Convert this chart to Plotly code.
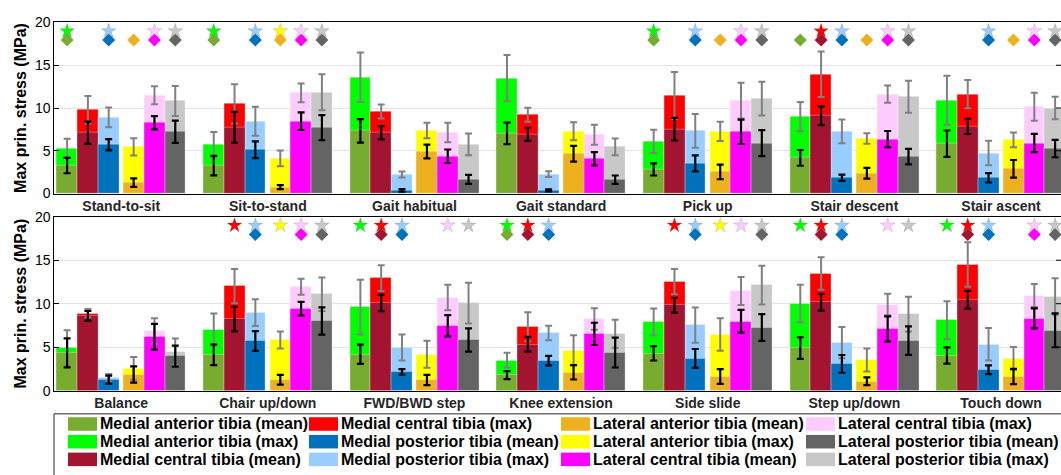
import plotly.graph_objects as go

W, H = 1061, 475

activities = ["Stand-to-sit", "Sit-to-stand", "Gait habitual", "Gait standard", "Pick up",
              "Stair descent", "Stair ascent",
              "Balance", "Chair up/down", "FWD/BWD step", "Knee extension", "Side slide",
              "Step up/down", "Touch down"]

locations = ["Medial anterior tibia", "Medial central tibia", "Medial posterior tibia",
             "Lateral anterior tibia", "Lateral central tibia", "Lateral posterior tibia"]

# ---- data (MPa), 14 activities per list ----
ma_max = [5.3, 5.7, 13.6, 13.5, 6.1, 9.0, 10.9, 4.9, 7.05, 9.6, 3.5, 7.9, 10.0, 8.1]
ma_max_sd = [1.1, 1.5, 2.9, 2.7, 1.37, 1.71, 2.86, 2.04, 1.82, 3.15, 0.85, 1.56, 2.17, 2.19]
ma_mean = [3.27, 3.27, 7.33, 7.03, 2.82, 4.17, 5.83, 4.34, 4.12, 4.19, 1.78, 4.3, 4.9, 4.04]
ma_mean_sd = [0.9, 1.15, 1.37, 1.26, 0.71, 0.92, 1.54, 1.67, 1.19, 1.11, 0.46, 0.83, 1.24, 0.93]

mc_max = [9.81, 10.49, 9.59, 9.21, 11.47, 13.95, 11.62, 8.9, 12.02, 12.95, 7.35, 12.54, 13.47, 14.51]
mc_max_sd = [1.6, 2.3, 0.81, 0.83, 2.75, 2.65, 1.65, 0.5, 1.98, 1.48, 1.67, 1.45, 1.88, 2.56]
mc_mean = [7.1, 7.74, 7.1, 6.92, 7.52, 9.1, 7.86, 8.61, 8.24, 10.09, 5.34, 9.83, 10.17, 10.46]
mc_mean_sd = [1.3, 1.8, 0.77, 0.77, 1.32, 1.09, 0.9, 0.55, 1.43, 0.96, 0.85, 0.85, 0.96, 1.02]

mp_max = [8.9, 8.46, 2.22, 2.26, 7.33, 7.26, 4.74, 1.48, 8.98, 4.97, 6.64, 7.53, 5.53, 5.34]
mp_max_sd = [1.15, 1.7, 0.36, 0.34, 1.97, 1.39, 1.43, 0.43, 1.54, 1.5, 0.83, 2.02, 1.8, 1.86]
mp_mean = [5.7, 5.11, 0.38, 0.38, 3.53, 1.84, 1.84, 1.26, 5.71, 2.15, 3.45, 3.71, 3.08, 2.41]
mp_mean_sd = [0.65, 0.98, 0.15, 0.12, 0.94, 0.36, 0.55, 0.46, 1.13, 0.32, 0.54, 1.08, 1.02, 0.5]

la_max = [5.45, 4.1, 7.37, 7.29, 7.26, 6.43, 6.28, 2.56, 5.83, 4.19, 4.64, 6.46, 3.53, 3.71]
la_max_sd = [1.0, 0.92, 0.92, 1.05, 1.13, 0.62, 0.87, 1.3, 0.97, 1.56, 1.73, 1.86, 1.32, 1.32]
la_mean = [1.28, 0.75, 4.92, 4.66, 2.52, 2.37, 2.89, 1.86, 1.26, 1.22, 2.11, 1.63, 1.08, 1.63]
la_mean_sd = [0.5, 0.23, 0.8, 0.92, 0.85, 0.62, 1.03, 0.93, 0.56, 0.59, 0.83, 0.85, 0.45, 0.87]

lc_max = [11.5, 11.77, 7.14, 6.88, 10.86, 11.62, 10.15, 6.86, 11.95, 10.72, 8.24, 11.47, 9.91, 10.95]
lc_max_sd = [1.05, 1.09, 1.15, 1.17, 2.09, 1.0, 1.64, 1.48, 0.93, 1.47, 1.24, 1.61, 1.24, 1.32]
lc_mean = [8.27, 8.46, 4.36, 4.06, 7.22, 6.35, 5.9, 6.2, 9.42, 7.46, 6.53, 7.98, 7.09, 8.31]
lc_mean_sd = [0.77, 1.03, 0.79, 0.77, 1.43, 0.96, 1.07, 1.48, 0.78, 1.22, 1.28, 1.3, 1.45, 1.15]

lp_max = [10.83, 11.84, 5.75, 5.45, 11.09, 11.32, 10.0, 4.49, 11.09, 10.06, 6.53, 12.13, 8.79, 10.83]
lp_max_sd = [1.75, 2.1, 1.26, 0.98, 1.97, 1.86, 1.32, 1.52, 1.93, 2.34, 1.61, 2.23, 2.0, 2.1]
lp_mean = [7.22, 7.7, 1.65, 1.62, 5.9, 4.32, 5.26, 3.97, 8.01, 5.83, 4.38, 7.27, 5.75, 6.94]
lp_mean_sd = [1.3, 1.47, 0.52, 0.49, 1.52, 0.9, 1.02, 1.2, 1.56, 1.34, 1.72, 1.54, 1.63, 1.95]

# significance markers (star = max, diamond = mean)
ma_star = [1, 1, 0, 0, 1, 0, 0, 0, 0, 1, 1, 0, 1, 1]
ma_diam = [1, 1, 0, 0, 1, 1, 0, 0, 0, 0, 1, 0, 0, 0]
mc_star = [0, 0, 0, 0, 0, 1, 0, 0, 1, 1, 1, 1, 1, 1]
mc_diam = [0, 0, 0, 0, 0, 1, 0, 0, 0, 1, 1, 0, 1, 1]
mp_star = [1, 1, 0, 0, 1, 1, 1, 0, 1, 1, 1, 1, 1, 1]
mp_diam = [1, 1, 0, 0, 1, 1, 1, 0, 1, 1, 1, 1, 1, 1]
la_star = [0, 1, 0, 0, 0, 0, 0, 0, 1, 0, 0, 1, 0, 0]
la_diam = [1, 1, 0, 0, 1, 1, 1, 0, 0, 0, 0, 0, 0, 0]
lc_star = [1, 1, 0, 0, 1, 1, 1, 0, 1, 1, 0, 1, 1, 1]
lc_diam = [1, 1, 0, 0, 1, 1, 1, 0, 1, 0, 0, 0, 0, 1]
lp_star = [1, 1, 0, 0, 1, 1, 1, 0, 1, 1, 0, 1, 1, 1]
lp_diam = [1, 1, 0, 0, 1, 1, 1, 0, 1, 0, 0, 1, 0, 1]

max_vals = [ma_max, mc_max, mp_max, la_max, lc_max, lp_max]
max_sds = [ma_max_sd, mc_max_sd, mp_max_sd, la_max_sd, lc_max_sd, lp_max_sd]
mean_vals = [ma_mean, mc_mean, mp_mean, la_mean, lc_mean, lp_mean]
mean_sds = [ma_mean_sd, mc_mean_sd, mp_mean_sd, la_mean_sd, lc_mean_sd, lp_mean_sd]
stars = [ma_star, mc_star, mp_star, la_star, lc_star, lp_star]
diams = [ma_diam, mc_diam, mp_diam, la_diam, lc_diam, lp_diam]

mean_colors = ["#77AC30", "#A2142F", "#0072BD", "#EDB120", "#FF00FF", "#646464"]
max_colors = ["#00FF00", "#FF0000", "#99CCFF", "#FFFF00", "#FFCCFF", "#C8C8C8"]

STAR_Y, DIAM_Y = 19.0, 17.95

# ---- geometry ----
PITCH = 7.05
OFFS = [0, 1, 2, 3.2, 4.2, 5.2]
FONT = "Liberation Sans, Arial, sans-serif"

def px(x):
    return x / W

def py(y):
    return 1 - y / H

fig = go.Figure()

panels = [(0, 7, "x", "y"), (7, 14, "x2", "y2")]
for (a, b, xa, ya) in panels:
    n = b - a
    xs_loc = [[g * PITCH + OFFS[j] + 0.5 for g in range(n)] for j in range(6)]
    for j in range(6):
        fig.add_trace(go.Bar(x=xs_loc[j], y=max_vals[j][a:b], width=1,
                             marker=dict(color=max_colors[j], line=dict(width=0.5, color="rgba(255,255,255,0.6)")),
                             xaxis=xa, yaxis=ya, showlegend=False))
    for j in range(6):
        fig.add_trace(go.Bar(x=xs_loc[j], y=mean_vals[j][a:b], width=1,
                             marker=dict(color=mean_colors[j], line=dict(width=0.5, color="rgba(255,255,255,0.6)")),
                             xaxis=xa, yaxis=ya, showlegend=False))
    for j in range(6):
        fig.add_trace(go.Scatter(x=xs_loc[j], y=max_vals[j][a:b], mode="markers",
                                 marker=dict(size=1, opacity=0),
                                 error_y=dict(type="data", array=max_sds[j][a:b], color="#808080",
                                              thickness=2, width=3.5),
                                 xaxis=xa, yaxis=ya, showlegend=False, hoverinfo="skip"))
    for j in range(6):
        fig.add_trace(go.Scatter(x=xs_loc[j], y=mean_vals[j][a:b], mode="markers",
                                 marker=dict(size=1, opacity=0),
                                 error_y=dict(type="data", array=mean_sds[j][a:b], color="#000000",
                                              thickness=2.2, width=3.5),
                                 xaxis=xa, yaxis=ya, showlegend=False, hoverinfo="skip"))
    for j in range(6):
        dx = [xs_loc[j][g] for g in range(n) if diams[j][a + g]]
        fig.add_trace(go.Scatter(x=dx, y=[DIAM_Y] * len(dx), mode="markers",
                                 marker=dict(symbol="diamond", size=10, color=mean_colors[j],
                                             line=dict(width=0)),
                                 xaxis=xa, yaxis=ya, showlegend=False))
        sx = [xs_loc[j][g] for g in range(n) if stars[j][a + g]]
        fig.add_trace(go.Scatter(x=sx, y=[STAR_Y] * len(sx), mode="markers",
                                 marker=dict(symbol="star", size=11, color=max_colors[j],
                                             line=dict(width=0.5, color="rgba(0,0,0,0.25)")),
                                 xaxis=xa, yaxis=ya, showlegend=False))

x_left = (54.3 - 56.7) / 20.8
x_right = (1061 - 56.7) / 20.8
centers = [g * PITCH + 3.1 for g in range(7)]

xdom = [px(54.3), 1.0]
common_x = dict(range=[x_left, x_right], tickmode="array", tickvals=centers, ticks="",
                showline=True, linecolor="#000000", linewidth=1, mirror=True, showgrid=False,
                zeroline=False, tickfont=dict(family=FONT, size=14, color="#262626"), domain=xdom)
common_y = dict(range=[0, 20], tickvals=[0, 5, 10, 15, 20], ticks="inside", ticklen=5,
                tickcolor="#000000", showline=True, linecolor="#000000", linewidth=1,
                showgrid=True, gridcolor="#E3E3E3", gridwidth=1, zeroline=False,
                tickfont=dict(family=FONT, size=14, color="#000000"),
                title=dict(text="<b>Max prin. stress (MPa)</b>", standoff=4,
                           font=dict(family=FONT, size=16, color="#000000")))

fig.update_layout(
    width=W, height=H, margin=dict(l=0, r=0, t=0, b=0),
    paper_bgcolor="white", plot_bgcolor="white", barmode="overlay", bargap=0,
    font=dict(family=FONT, color="#000000"),
    xaxis=dict(common_x, ticktext=["<b>%s</b>" % s for s in activities[0:7]], anchor="y"),
    yaxis=dict(common_y, domain=[py(192), py(15)], anchor="x"),
    xaxis2=dict(common_x, ticktext=["<b>%s</b>" % s for s in activities[7:14]], anchor="y2"),
    yaxis2=dict(common_y, domain=[py(396), py(216)], anchor="x2"),
)

# right-side mirrored ticks
shapes = []
for yref in ["y", "y2"]:
    for v in [5, 10, 15]:
        shapes.append(dict(type="line", xref="paper", yref=yref, x0=1 - 5 / W, x1=1.0,
                           y0=v, y1=v, line=dict(color="#000000", width=1)))

# ---- legend (drawn manually) ----
shapes.append(dict(type="rect", xref="paper", yref="paper", x0=px(54), x1=px(1075),
                   y0=py(490), y1=py(420), line=dict(color="#262626", width=1),
                   fillcolor="white", layer="below"))
legend_order = []
for j in range(6):
    legend_order.append((locations[j] + " (mean)", mean_colors[j]))
    legend_order.append((locations[j] + " (max)", max_colors[j]))
col_x = [68, 309, 561, 806]
row_y = [430.5, 448.8, 467.1]
annotations = []
for k, (lab, col) in enumerate(legend_order):
    c, r = divmod(k, 3)
    x0 = col_x[c]
    yc = row_y[r]
    shapes.append(dict(type="rect", xref="paper", yref="paper", x0=px(x0), x1=px(x0 + 29),
                       y0=py(yc + 7), y1=py(yc - 7), line=dict(width=0), fillcolor=col))
    annotations.append(dict(xref="paper", yref="paper", x=px(x0 + 30), y=py(yc),
                            text="<b>%s</b>" % lab, showarrow=False, xanchor="left",
                            yanchor="middle", font=dict(family=FONT, size=16, color="#000000")))

fig.update_layout(shapes=shapes, annotations=annotations)
fig.write_html("out.html")
